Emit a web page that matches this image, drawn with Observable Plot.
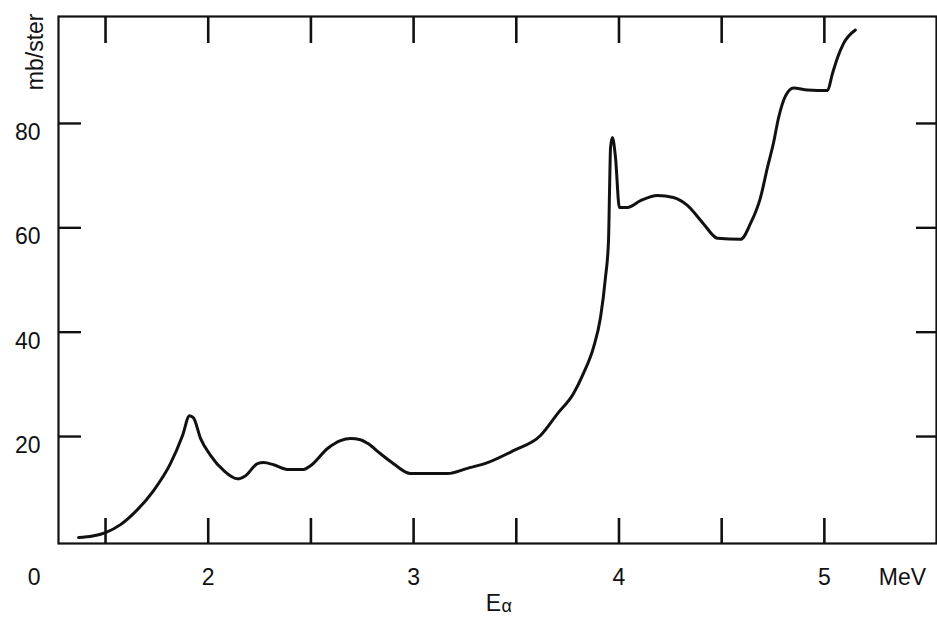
<!DOCTYPE html>
<html>
<head>
<meta charset="utf-8">
<script src="https://cdn.jsdelivr.net/npm/d3@7"></script>
<script src="https://cdn.jsdelivr.net/npm/@observablehq/plot@0.6"></script>
<style>
html, body { margin: 0; padding: 0; background: #fff; overflow: hidden; }
</style>
</head>
<body>
<div id="chart"></div>
<script>
// Alpha energy (MeV) and cross section (mb/ster)
const energy = [1.369, 1.437, 1.500, 1.573, 1.636, 1.734, 1.816, 1.875, 1.909, 1.928,
  1.963, 2.011, 2.075, 2.143, 2.182, 2.240, 2.269, 2.318, 2.386, 2.464,
  2.498, 2.581, 2.644, 2.693, 2.741, 2.776, 2.839, 2.902, 2.985, 3.165,
  3.262, 3.360, 3.486, 3.618, 3.701, 3.778, 3.827, 3.876, 3.910, 3.934,
  3.949, 3.954, 3.959, 3.968, 3.983, 4.002, 4.041, 4.105, 4.187, 4.265,
  4.333, 4.411, 4.480, 4.592, 4.640, 4.689, 4.723, 4.752, 4.777, 4.811,
  4.850, 4.918, 5.015, 5.039, 5.064, 5.093, 5.151];
const sigma = [0.63, 0.92, 1.59, 3.12, 5.23, 9.64, 14.8, 20.2, 24.0, 23.6,
  19.6, 16.4, 13.5, 11.9, 12.5, 14.8, 15.0, 14.6, 13.7, 13.7,
  14.4, 17.7, 19.2, 19.6, 19.4, 18.7, 16.7, 14.8, 12.9, 12.9,
  13.9, 15.0, 17.3, 20.2, 24.4, 28.2, 32.1, 37.1, 42.8, 50.4,
  57.5, 67.1, 75.4, 77.3, 73.5, 63.9, 63.9, 65.2, 66.2, 65.8,
  64.3, 60.8, 58.0, 57.8, 60.8, 65.8, 71.6, 76.2, 81.1, 85.3,
  86.8, 86.4, 86.3, 89.5, 92.6, 95.3, 97.9];

const xTicks = [1.5, 2, 2.5, 3, 3.5, 4, 4.5, 5];
const xLabels = [2, 3, 4, 5];
const yTicks = [20, 40, 60, 80];
const yUnit = ["mb/ster"];
const xUnit = ["MeV"];
const xName = ["E"];
const xSub = ["α"];
const origin = ["0"];

const table = energy.map((e, i) => ({e, s: sigma[i]}));
const font = "'Liberation Sans', Arial, Helvetica, sans-serif";
const ink = "#111";
const fs = 23;

const chart = Plot.plot({
  width: 937,
  height: 617,
  marginLeft: 58,
  marginRight: 1,
  marginTop: 16,
  marginBottom: 74,
  style: {fontFamily: font, background: "#fff", color: ink, overflow: "visible"},
  x: {domain: [1.271, 5.546], label: null},
  y: {domain: [-0.5, 100.5], label: null},
  marks: [
    Plot.frame({stroke: ink, strokeWidth: 2.2}),
    // inward ticks
    Plot.axisX({anchor: "bottom", ticks: xTicks, tickSize: -25, tickFormat: () => "", strokeWidth: 2.6, label: null}),
    Plot.axisX({anchor: "top", ticks: xTicks, tickSize: -26, tickFormat: () => "", strokeWidth: 2.6, label: null}),
    Plot.axisY({anchor: "left", ticks: yTicks, tickSize: -23, tickFormat: () => "", strokeWidth: 2.4, label: null}),
    Plot.axisY({anchor: "right", ticks: yTicks, tickSize: -21, tickFormat: () => "", strokeWidth: 2.4, label: null}),
    // labels
    Plot.axisX({anchor: "bottom", ticks: xLabels, tickSize: 0, tickPadding: 25, tickFormat: d => String(d), fontSize: fs, lineAnchor: "top", label: null, fill: ink}),
    Plot.axisY({anchor: "left", ticks: yTicks, tickSize: 0, tickPadding: 18, tickFormat: d => String(d), fontSize: fs, dy: 9, label: null, fill: ink}),
    Plot.text(origin, {text: d => d, frameAnchor: "bottom-left", dx: -18, dy: 25, textAnchor: "end", lineAnchor: "top", fontSize: fs, fill: ink}),
    Plot.text(xUnit, {text: d => d, frameAnchor: "bottom-right", dx: -34, dy: 25, textAnchor: "middle", lineAnchor: "top", fontSize: fs, fill: ink}),
    Plot.text(yUnit, {text: d => d, frameAnchor: "top-left", dx: -23, dy: -3, rotate: -90, textAnchor: "end", lineAnchor: "middle", fontSize: fs, fill: ink}),
    Plot.text(xName, {text: d => d, frameAnchor: "bottom", dx: -4, dy: 51, textAnchor: "middle", lineAnchor: "top", fontSize: fs, fill: ink}),
    Plot.text(xSub, {text: d => d, frameAnchor: "bottom", dx: 4, dy: 56, textAnchor: "start", lineAnchor: "top", fontSize: 18, fill: ink}),
    // curve
    Plot.line(table, {x: "e", y: "s", stroke: ink, strokeWidth: 3, curve: "monotone-x", strokeLinejoin: "round", strokeLinecap: "round"})
  ]
});
document.getElementById("chart").appendChild(chart);
</script>
</body>
</html>
